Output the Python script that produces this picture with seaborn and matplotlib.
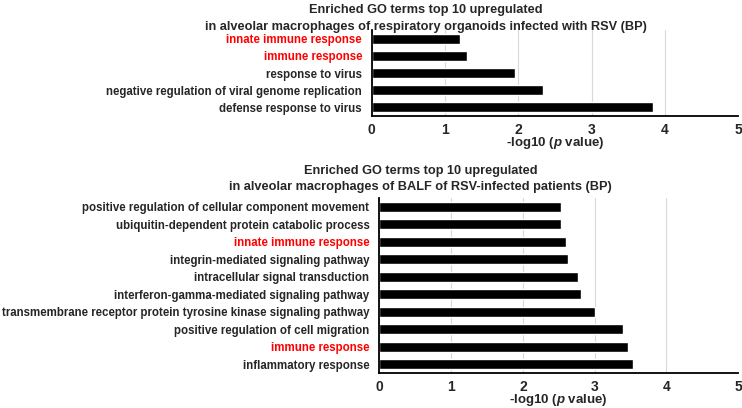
import numpy as np
import pandas as pd
import matplotlib
matplotlib.use("Agg")
import matplotlib.pyplot as plt
import seaborn as sns

sns.set_style("white")
plt.rcParams['font.family'] = ['Liberation Sans', 'DejaVu Sans']
plt.rcParams['font.weight'] = 'bold'
plt.rcParams['mathtext.fontset'] = 'custom'
plt.rcParams['mathtext.it'] = 'Liberation Sans:italic:bold'
plt.rcParams['mathtext.rm'] = 'Liberation Sans:bold'

# organoid data (top panel), listed top to bottom
org_terms = ["innate immune response", "immune response", "response to virus",
             "negative regulation of viral genome replication", "defense response to virus"]
org_vals = [1.2, 1.3, 1.95, 2.34, 3.84]

# BALF data (bottom panel), listed top to bottom
balf_terms = ["positive regulation of cellular component movement",
              "ubiquitin-dependent protein catabolic process",
              "innate immune response",
              "integrin-mediated signaling pathway",
              "intracellular signal transduction",
              "interferon-gamma-mediated signaling pathway",
              "transmembrane receptor protein tyrosine kinase signaling pathway",
              "positive regulation of cell migration",
              "immune response",
              "inflammatory response"]
balf_vals = [2.53, 2.53, 2.6, 2.63, 2.77, 2.81, 3.01, 3.4, 3.47, 3.54]

red_terms = ["innate immune response", "immune response"]

titles = ["Enriched GO terms top 10 upregulated\nin alveolar macrophages of respiratory organoids infected with RSV (BP)",
          "Enriched GO terms top 10 upregulated\nin alveolar macrophages of BALF of RSV-infected patients (BP)"]

fig = plt.figure(figsize=(7.42, 4.08), dpi=100)
ax1 = fig.add_axes([0.501, 0.716, 0.494, 0.210])
ax2 = fig.add_axes([0.511, 0.086, 0.484, 0.429])

for ax, terms, vals in [(ax1, org_terms, org_vals), (ax2, balf_terms, balf_vals)]:
    df = pd.DataFrame({"term": terms, "val": vals})
    sns.barplot(data=df, x="val", y="term", orient="h", color="black",
                width=0.58, ax=ax, saturation=1)
    ax.set_xlim(0, 5)
    ax.set_ylim(len(terms) - 0.5, -0.5)
    ax.set_xticks(range(6))
    ax.xaxis.grid(True, color="#d9d9d9", linewidth=0.8)
    ax.set_axisbelow(True)
    for s in ["top", "right"]:
        ax.spines[s].set_visible(False)
    for s in ["left", "bottom"]:
        ax.spines[s].set_color("black")
        ax.spines[s].set_linewidth(1.3)
    # small ticks between categories, as in the original
    ax.set_yticks(np.arange(len(terms)))
    ax.set_yticks(np.arange(-0.5, len(terms)), minor=True)
    ax.tick_params(axis="y", which="major", length=0, labelsize=8.3, pad=7)
    ax.tick_params(axis="y", which="minor", length=3, width=1, color="black", direction="out")
    ax.tick_params(axis="x", length=0, labelsize=10, pad=5)
    for lab in ax.get_yticklabels():
        lab.set_fontweight("bold")
        if lab.get_text() in red_terms:
            lab.set_color("red")
    for lab in ax.get_xticklabels():
        lab.set_fontweight("bold")
    ax.set_ylabel("")
    ax.set_xlabel("-log10 ($\\it{p}$ value)", fontsize=9.5, fontweight="bold", labelpad=-1)

fig.text(0.574, 1 - 18.5 / 408, titles[0], ha="center", va="center",
         fontsize=9.2, fontweight="bold", linespacing=1.55)
fig.text(0.567, 1 - 179 / 408, titles[1], ha="center", va="center",
         fontsize=9.2, fontweight="bold", linespacing=1.55)

fig.savefig("out.png", dpi=100)
